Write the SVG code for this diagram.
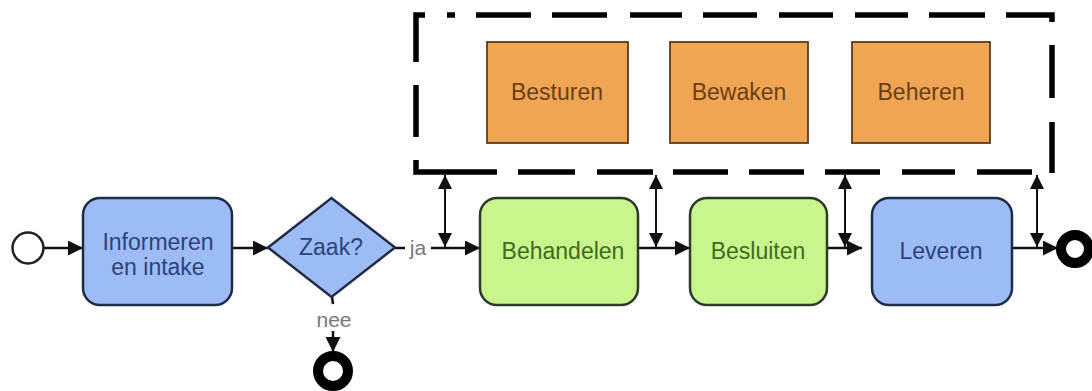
<svg xmlns="http://www.w3.org/2000/svg" width="1092" height="391" viewBox="0 0 1092 391">
<style>
text{font-family:"Liberation Sans",Arial,sans-serif;font-size:23px;text-anchor:middle}
.blue{fill:#9dbcf5;stroke:#1f2c47;stroke-width:2.5}
.green{fill:#c9f68c;stroke:#2c3a2a;stroke-width:2.5}
.orange{fill:#f0a555;stroke:#5a3b1f;stroke-width:1.8}
.tb{fill:#2b427c}
.tg{fill:#3f6b22}
.to{fill:#6a3f14}
.lbl{fill:#777;font-size:21px}
.ln{stroke:#111;stroke-width:2.5;fill:none}
.dbl{stroke:#111;stroke-width:2;fill:none}
</style>
<defs>
<marker id="ah" markerUnits="userSpaceOnUse" markerWidth="15" markerHeight="15" refX="14" refY="7" orient="auto-start-reverse" viewBox="0 0 14 14">
<path d="M0,0 L14,7 L0,14 z" fill="#111"/>
</marker>
<marker id="ah2" markerUnits="userSpaceOnUse" markerWidth="14" markerHeight="14" refX="13" refY="6.5" orient="auto-start-reverse" viewBox="0 0 13 13">
<path d="M0,0 L13,6.5 L0,13 z" fill="#111"/>
</marker>
</defs>
<rect width="1092" height="391" fill="#fff"/>

<g id="container">
<path d="M416,62 L416,15 L425,15 M447,15 L455,15 M476,15 L531,15 M552,15 L607,15 M630,15 L682,15 M703,15 L757,15 M779,15 L833,15 M855,15 L908,15 M929,15 L985,15 M1006,15 L1052,15 L1052,22 M1052,45 L1052,98 M1052,122 L1052,173 M416,85 L416,137 M416,160 L416,172 L497,172 M518,172 L575,172 M597,172 L653,172 M673,172 L728,172 M749,172 L804,172 M825,172 L880,172 M902,172 L955,172 M977,172 L1032,172" fill="none" stroke="#000" stroke-width="5.5"/>
</g>

<g id="besturen">
<rect class="orange" x="487" y="42" width="141" height="101"/>
<text class="to" x="557" y="100">Besturen</text>
</g>
<g id="bewaken">
<rect class="orange" x="670" y="42" width="138" height="101"/>
<text class="to" x="739" y="100">Bewaken</text>
</g>
<g id="beheren">
<rect class="orange" x="852" y="42" width="138" height="101"/>
<text class="to" x="921" y="100">Beheren</text>
</g>

<g id="connectors">
<line class="ln" x1="44" y1="248" x2="83" y2="248" marker-end="url(#ah)"/>
<line class="ln" x1="232" y1="248" x2="268" y2="248" marker-end="url(#ah)"/>
<line class="ln" x1="395" y1="248" x2="405" y2="248"/>
<line class="ln" x1="431" y1="248" x2="480" y2="248" marker-end="url(#ah)"/>
<line class="ln" x1="332" y1="297" x2="333" y2="304"/>
<line class="ln" x1="333" y1="331" x2="333" y2="352" marker-end="url(#ah)"/>
<line class="ln" x1="638" y1="248" x2="690" y2="248" marker-end="url(#ah)"/>
<line class="ln" x1="827" y1="248" x2="862" y2="248" marker-end="url(#ah)"/>
<line class="ln" x1="1012" y1="248" x2="1058" y2="248" marker-end="url(#ah)"/>
<line class="dbl" x1="445" y1="175" x2="445" y2="247" marker-start="url(#ah2)" marker-end="url(#ah2)"/>
<line class="dbl" x1="656" y1="175" x2="656" y2="247" marker-start="url(#ah2)" marker-end="url(#ah2)"/>
<line class="dbl" x1="845" y1="175" x2="845" y2="247" marker-start="url(#ah2)" marker-end="url(#ah2)"/>
<line class="dbl" x1="1037" y1="175" x2="1037" y2="247" marker-start="url(#ah2)" marker-end="url(#ah2)"/>
<text class="lbl" x="418" y="255">ja</text>
<text class="lbl" x="334" y="327">nee</text>
</g>

<g id="start">
<circle cx="28" cy="248" r="15.5" fill="#fff" stroke="#222" stroke-width="2.5"/>
</g>
<g id="informeren">
<rect class="blue" x="83" y="198" width="149" height="107" rx="17"/>
<text class="tb" x="158" y="250">Informeren</text>
<text class="tb" x="158" y="275">en intake</text>
</g>
<g id="zaak">
<polygon class="blue" points="268,247.5 331.5,198 395,247.5 331.5,297"/>
<text class="tb" x="331" y="255">Zaak?</text>
</g>
<g id="end-nee">
<circle cx="333" cy="371" r="15" fill="#fff" stroke="#000" stroke-width="10"/>
</g>
<g id="behandelen">
<rect class="green" x="480" y="198" width="158" height="107" rx="17"/>
<text class="tg" x="563" y="259">Behandelen</text>
</g>
<g id="besluiten">
<rect class="green" x="690" y="198" width="137" height="107" rx="17"/>
<text class="tg" x="758" y="259">Besluiten</text>
</g>
<g id="leveren">
<rect class="blue" x="872" y="198" width="140" height="107" rx="17"/>
<text class="tb" x="941" y="259">Leveren</text>
</g>
<g id="end">
<circle cx="1075" cy="249" r="14" fill="#fff" stroke="#000" stroke-width="10"/>
</g>
</svg>
